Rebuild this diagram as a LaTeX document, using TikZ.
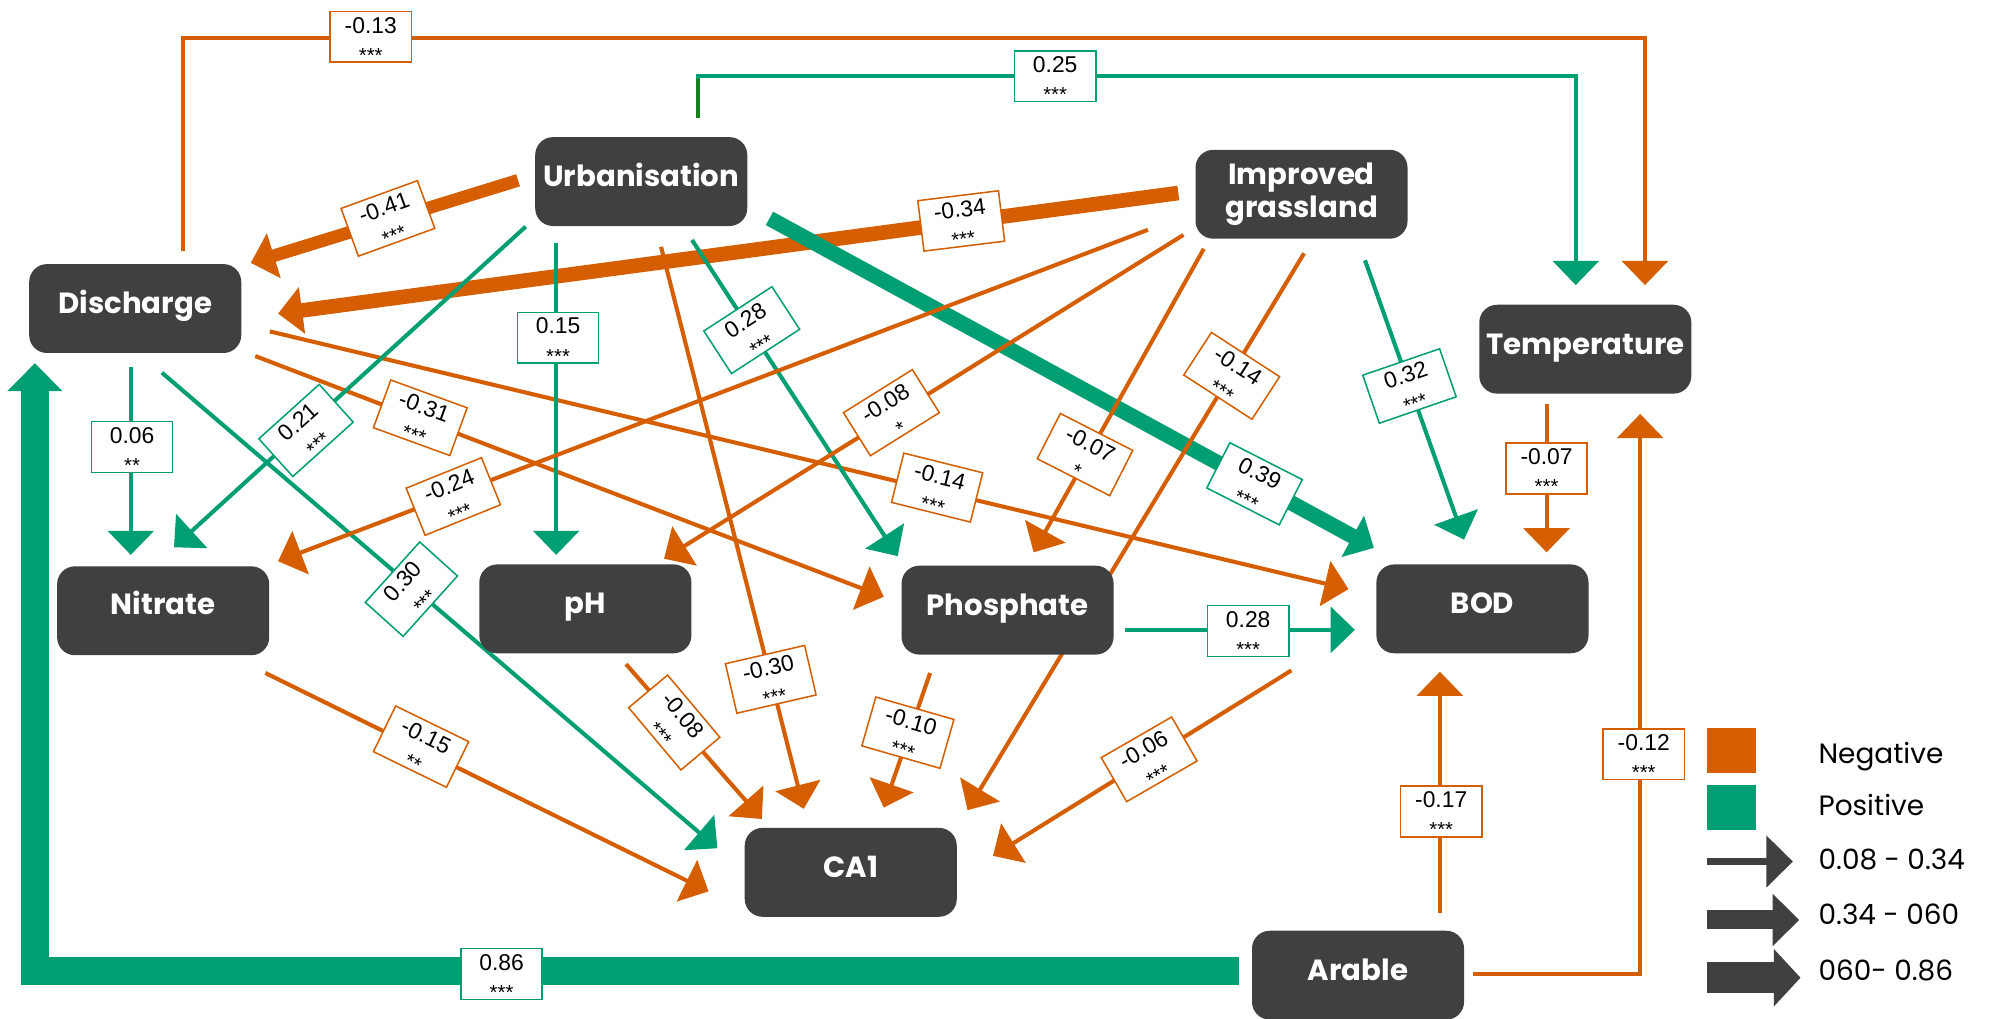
\documentclass[tikz,border=0pt]{standalone}
\usepackage{fontspec}
\setmainfont{Liberation Sans}
\newfontfamily\nodefont{Poppins}
\newfontfamily\labfont{Liberation Sans}
\usetikzlibrary{arrows.meta}
\definecolor{neg}{HTML}{D55E00}
\definecolor{pos}{HTML}{009E73}
\definecolor{dkgreen}{HTML}{16801A}
\definecolor{boxgray}{HTML}{404040}
\pgfdeclarelayer{bg}
\pgfdeclarelayer{edges}
\pgfdeclarelayer{labels}
\pgfsetlayers{bg,edges,labels,main}
\newcommand\lbl[2]{\rule{0pt}{17pt}#1\\{\fontsize{16}{23}\selectfont #2}}
\tikzset{
  box/.style={rectangle, rounded corners=14pt, fill=boxgray, text=white,
    minimum width=167pt, minimum height=70pt, inner sep=0pt, align=center,
    font=\nodefont\bfseries\fontsize{23}{26}\selectfont},
  box1/.style={box, text height=16pt, text depth=8pt},
  lab/.style={rectangle, draw=#1, line width=1.2pt, fill=white,
    minimum width=64pt, minimum height=40pt, inner sep=0pt, align=center,
    font=\labfont\fontsize{18}{23}\selectfont},
  conn/.style={draw=#1, line width=3.2pt, -{Triangle[length=19pt,width=36pt]}},
  legtext/.style={anchor=base west, inner sep=0pt, font=\nodefont\fontsize{22}{26}\selectfont},
  keysq/.style={fill=#1, minimum width=39pt, minimum height=36pt, inner sep=0pt}
}
\begin{document}
\begin{tikzpicture}[x=1pt,y=-1pt]
\useasboundingbox (0,0) rectangle (1568,802);
\begin{pgfonlayer}{bg}
\fill[white] (0,0) rectangle (1568,802);
\end{pgfonlayer}

% ---------- nodes ----------
\node[box1] (urb)   at (505,143)    {Urbanisation};
\node[box]  (grass) at (1025,153)   {Improved\\grassland};
\node[box1] (dis)   at (106.5,243)  {Discharge};
\node[box1] (temp)  at (1248.5,275) {Temperature};
\node[box1, text depth=10pt] (nit) at (128.5,481) {Nitrate};
\node[box1] (ph)    at (461,479.5)  {pH};
\node[box1] (pho)   at (793.5,480.5){Phosphate};
\node[box1] (bod)   at (1167.5,479.5){BOD};
\node[box1] (ca)    at (670,687)    {CA1};
\node[box1] (ara)   at (1069.5,768) {Arable};

% ---------- connectors ----------
\begin{pgfonlayer}{edges}
% thick ones
\draw[conn=neg, line width=10pt] ([shift={(-97,-1)}]urb.center) -- ([shift={(91,-36)}]dis.center);
\draw[conn=neg, line width=11.5pt] ([shift={(-97,-1)}]grass.center) -- ([shift={(112.5,4)}]dis.center);
\draw[conn=pos, line width=12pt] ([shift={(101,29)}]urb.center) -- ([shift={(-85.5,-48)}]bod.center);
\draw[draw=pos, line width=22pt, -{Triangle[length=22pt,width=42pt]}]
  ([shift={(-93.5,-3)}]ara.center) -| ([shift={(-79,43)}]dis.center);
% elbow connectors
\draw[conn=neg] ([shift={(37.5,-45)}]dis.center) -- ++(0,-168.3) -| ([shift={(47,-50.5)}]temp.center);
\draw[conn=pos] ([shift={(45,-50)}]urb.center) -- ++(0,-33) -| ([shift={(-7.5,-50.5)}]temp.center);
\draw[dkgreen, line width=3.2pt] ([shift={(45,-50)}]urb.center) -- ++(0,-31);
\draw[conn=neg] ([shift={(90.5,-1)}]ara.center) -| ([shift={(43.2,51)}]temp.center);
% straight connectors
\draw[conn=neg] ([shift={(-30.5,43)}]temp.center) -- ([shift={(50.5,-44.5)}]bod.center);
\draw[conn=neg] ([shift={(64.5,-49)}]ara.center) -- ([shift={(-33.5,49.5)}]bod.center);
\draw[conn=pos] ([shift={(92.5,15.5)}]pho.center) -- ([shift={(-100.5,16.5)}]bod.center);
\draw[conn=pos] ([shift={(50,52)}]grass.center) -- ([shift={(-14.5,-54.5)}]bod.center);
\draw[conn=neg] ([shift={(106,18)}]dis.center) -- ([shift={(-105.5,-15.5)}]bod.center);
\draw[conn=neg] ([shift={(94.5,37.4)}]dis.center) -- ([shift={(-97.5,-10.5)}]pho.center);
\draw[conn=pos] ([shift={(-3.5,46)}]dis.center) -- ([shift={(-25.5,-44)}]nit.center);
\draw[conn=pos] ([shift={(21,50.5)}]dis.center) -- ([shift={(-105,-19)}]ca.center);
\draw[conn=pos] ([shift={(-91,35.5)}]urb.center) -- ([shift={(8.5,-50)}]nit.center);
\draw[conn=pos] ([shift={(-67,48.5)}]urb.center) -- ([shift={(-23,-42.5)}]ph.center);
\draw[conn=pos] ([shift={(40,46)}]urb.center) -- ([shift={(-86.5,-42.5)}]pho.center);
\draw[conn=neg] ([shift={(15.6,51.4)}]urb.center) -- ([shift={(-37,-50)}]ca.center);
\draw[conn=neg] ([shift={(-121,28)}]grass.center) -- ([shift={(90.5,-39)}]nit.center);
\draw[conn=neg] ([shift={(-93,32)}]grass.center) -- ([shift={(62,-39.5)}]ph.center);
\draw[conn=neg] ([shift={(-77,43)}]grass.center) -- ([shift={(20.5,-45.5)}]pho.center);
\draw[conn=neg] ([shift={(2,46.5)}]grass.center) -- ([shift={(92,-49)}]ca.center);
\draw[conn=neg] ([shift={(80.5,49)}]nit.center) -- ([shift={(-112,15)}]ca.center);
\draw[conn=neg] ([shift={(32,43.5)}]ph.center) -- ([shift={(-70,-42)}]ca.center);
\draw[conn=neg] ([shift={(-61,49.5)}]pho.center) -- ([shift={(26,-51)}]ca.center);
\draw[conn=neg] ([shift={(-150.5,48.5)}]bod.center) -- ([shift={(112,-13)}]ca.center);
\end{pgfonlayer}

% ---------- coefficient labels ----------
\begin{pgfonlayer}{labels}
\node[lab=neg, rotate=20]  (l1)  at (305.5,172) {\lbl{-0.41}{***}};
\node[lab=neg, rotate=7]   (l2)  at (757,174)   {\lbl{-0.34}{***}};
\node[lab=pos, rotate=-27] (l3)  at (988,381)   {\lbl{0.39}{***}};
\node[lab=pos]             (l4)  at (395,767)   {\lbl{0.86}{***}};
\node[lab=neg]             (l5)  at (292,29)    {\lbl{-0.13}{***}};
\node[lab=pos]             (l6)  at (831,60)    {\lbl{0.25}{***}};
\node[lab=neg]             (l7)  at (1218,369)  {\lbl{-0.07}{***}};
\node[lab=neg]             (l8)  at (1294.5,594){\lbl{-0.12}{***}};
\node[lab=neg]             (l9)  at (1135,639)  {\lbl{-0.17}{***}};
\node[lab=pos]             (l10) at (983,497)   {\lbl{0.28}{***}};
\node[lab=pos, rotate=19]  (l11) at (1110,304)  {\lbl{0.32}{***}};
\node[lab=neg, rotate=-14] (l12) at (738,384)   {\lbl{-0.14}{***}};
\node[lab=neg, rotate=-20] (l13) at (331,329)   {\lbl{-0.31}{***}};
\node[lab=pos]             (l14) at (104,352)   {\lbl{0.06}{**}};
\node[lab=pos, rotate=48]  (l15) at (324,464)   {\lbl{0.30}{***}};
\node[lab=pos, rotate=42]  (l16) at (241,339)   {\lbl{0.21}{***}};
\node[lab=pos]             (l17) at (439.5,266) {\lbl{0.15}{***}};
\node[lab=pos, rotate=33]  (l18) at (592,260)   {\lbl{0.28}{***}};
\node[lab=neg, rotate=13]  (l19) at (607,535)   {\lbl{-0.30}{***}};
\node[lab=neg, rotate=22]  (l20) at (357,391)   {\lbl{-0.24}{***}};
\node[lab=neg, rotate=32]  (l21) at (702,325)   {\lbl{-0.08}{*}};
\node[lab=neg, rotate=-27] (l22) at (854.5,358) {\lbl{-0.07}{*}};
\node[lab=neg, rotate=-33] (l23) at (970,296)   {\lbl{-0.14}{***}};
\node[lab=neg, rotate=-26] (l24) at (331.6,588) {\lbl{-0.15}{**}};
\node[lab=neg, rotate=-50] (l25) at (531,569)   {\lbl{-0.08}{***}};
\node[lab=neg, rotate=-16] (l26) at (715,577)   {\lbl{-0.10}{***}};
\node[lab=neg, rotate=30]  (l27) at (905,598)   {\lbl{-0.06}{***}};
\end{pgfonlayer}

% ---------- legend ----------
\node[keysq=neg] (kneg) at (1363.5,591) {};
\node[keysq=pos] (kpos) at (1363.5,636) {};
\node[legtext] (tneg) at (1432,601) {Negative};
\node[legtext] (tpos) at (1432,642) {Positive};
\coordinate (s1) at (1344,678.5); \coordinate (e1) at (1412,678.5);
\coordinate (s2) at (1344,724.5); \coordinate (e2) at (1417,724.5);
\coordinate (s3) at (1344,770);   \coordinate (e3) at (1418,770);
\draw[boxgray, line width=5pt,  -{Triangle[length=21pt,width=40pt]}] (s1) -- (e1);
\draw[boxgray, line width=15pt, -{Triangle[length=21pt,width=40pt]}] (s2) -- (e2);
\draw[boxgray, line width=24pt, -{Triangle[length=21pt,width=44pt]}] (s3) -- (e3);
\node[legtext] (t1) at (1432,685) {0.08 - 0.34};
\node[legtext] (t2) at (1432,728) {0.34 - 060};
\node[legtext] (t3) at (1432,772) {060- 0.86};
\end{tikzpicture}
\end{document}
